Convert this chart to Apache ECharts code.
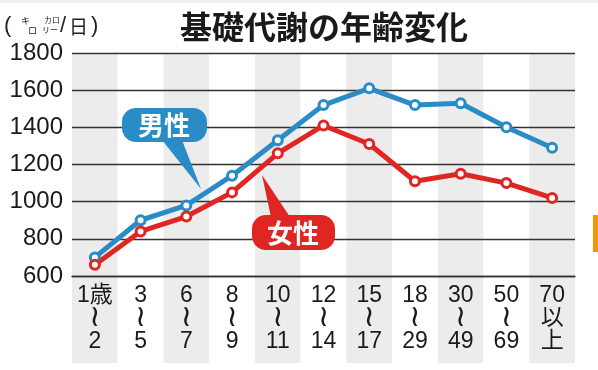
<!DOCTYPE html>
<html><head><meta charset="utf-8">
<script src="https://cdn.jsdelivr.net/npm/echarts@6/dist/echarts.min.js"></script>
<style>html,body{margin:0;padding:0;background:#fff}#c{width:598px;height:370px}</style>
</head><body><div id="c"></div>
<script>
const ageTop = ['1歳','3','6','8','10','12','15','18','30','50','70'];
const ageMid = ['≀','≀','≀','≀','≀','≀','≀','≀','≀','≀','以'];
const ageBottom = ['2','5','7','9','11','14','17','29','49','69','上'];
const categories = ageTop.map((t,i)=>t+'-'+ageBottom[i]);
const male = [700, 900, 980, 1140, 1330, 1520, 1610, 1520, 1530, 1400, 1290];
const female = [660, 840, 920, 1050, 1260, 1410, 1310, 1110, 1150, 1100, 1020];
const yTicks = [600, 800, 1000, 1200, 1400, 1600, 1800];

const BLUE = '#2a8cc6', RED = '#df2623';
const SANS = '"Liberation Sans", Arial, "Noto Sans CJK JP", sans-serif';
const CJK = '"Noto Sans CJK JP", sans-serif';

const chart = echarts.init(document.getElementById('c'), null, {renderer:'canvas'});
const serie = (name, data, color) => ({
  name, type:'line', data, xAxisIndex:0, yAxisIndex:0,
  symbol:'circle', symbolSize:9, z:3,
  lineStyle:{color, width:5},
  itemStyle:{color:'#fff', borderColor:color, borderWidth:3},
  emphasis:{disabled:true}, animation:false
});
chart.setOption({
  animation:false,
  grid:[
    {left:72, right:23, top:53, bottom:94},
    {left:72, right:23, top:276, height:87}
  ],
  xAxis:[
    {type:'category', gridIndex:0, data:categories, z:1,
     axisLine:{show:true, lineStyle:{color:'#333', width:1.4}},
     axisTick:{show:false},
     splitArea:{show:true, areaStyle:{color:['#ececec','#ffffff']}},
     axisLabel:{margin:8, interval:0, color:'#1a1a1a',
       formatter:(v,i)=>'{n|'+ageTop[i]+'}\n{'+(i===10?'n':'w')+'|'+ageMid[i]+'}\n{n|'+ageBottom[i]+'}',
       rich:{
         n:{fontSize:23, lineHeight:23, fontFamily:SANS, color:'#1a1a1a', align:'center'},
         w:{fontSize:30, lineHeight:23, fontFamily:'"DejaVu Sans", sans-serif', color:'#1a1a1a', align:'center'}
       }}
    },
    {type:'category', gridIndex:1, data:categories, z:-1,
     axisLine:{show:false}, axisTick:{show:false}, axisLabel:{show:false},
     splitArea:{show:true, areaStyle:{color:['#ececec','#ffffff']}}}
  ],
  yAxis:[
    {type:'value', gridIndex:0, min:yTicks[0], max:yTicks[yTicks.length-1], interval:200, z:2,
     axisLine:{show:false}, axisTick:{show:false},
     splitLine:{show:true, lineStyle:{color:'#333', width:1.4}},
     axisLabel:{margin:9, color:'#1a1a1a', fontSize:24, fontFamily:SANS, formatter:v=>String(v)}},
    {type:'value', gridIndex:1, show:false}
  ],
  series:[serie('男性', male, BLUE), serie('女性', female, RED)],
  graphic:[
    {type:'rect', shape:{x:0,y:0,width:598,height:3}, style:{fill:'#eeeeee'}, silent:true},
    {type:'rect', shape:{x:593,y:215,width:5,height:37}, style:{fill:'#f39800'}, silent:true},
    {type:'text', x:324, y:27, style:{text:'基礎代謝の年齢変化', font:'bold 32px '+CJK, fill:'#1a1a1a', textAlign:'center', textVerticalAlign:'middle'}, silent:true},
    // unit label
    {type:'text', x:4, y:15, style:{text:'(', font:'22px '+SANS, fill:'#222'}},
    {type:'text', x:21, y:16, style:{text:'キ', font:'9px '+CJK, fill:'#222'}},
    {type:'text', x:28, y:26, style:{text:'ロ', font:'9px '+CJK, fill:'#222'}},
    {type:'text', x:44, y:16, style:{text:'カロ', font:'8px '+CJK, fill:'#222'}},
    {type:'text', x:42, y:26, style:{text:'リー', font:'8px '+CJK, fill:'#222'}},
    {type:'text', x:60, y:15, style:{text:'/', font:'22px '+SANS, fill:'#222'}},
    {type:'text', x:69, y:17, style:{text:'日', font:'19px '+CJK, fill:'#222'}},
    {type:'text', x:91, y:15, style:{text:')', font:'22px '+SANS, fill:'#222'}},
    // male callout
    {type:'polygon', z:10, shape:{points:[[162,140],[182,140],[201,189]]}, style:{fill:BLUE}},
    {type:'rect', z:10, shape:{x:122,y:108,width:85,height:34,r:14}, style:{fill:BLUE}},
    {type:'text', z:11, x:164, y:125, style:{text:'男性', font:'bold 26px '+CJK, fill:'#fff', textAlign:'center', textVerticalAlign:'middle'}},
    // female callout
    {type:'polygon', z:10, shape:{points:[[262,175],[271,217],[290,217]]}, style:{fill:RED}},
    {type:'rect', z:10, shape:{x:252,y:215,width:83,height:35,r:14}, style:{fill:RED}},
    {type:'text', z:11, x:293, y:233, style:{text:'女性', font:'bold 26px '+CJK, fill:'#fff', textAlign:'center', textVerticalAlign:'middle'}}
  ]
});
</script></body></html>
